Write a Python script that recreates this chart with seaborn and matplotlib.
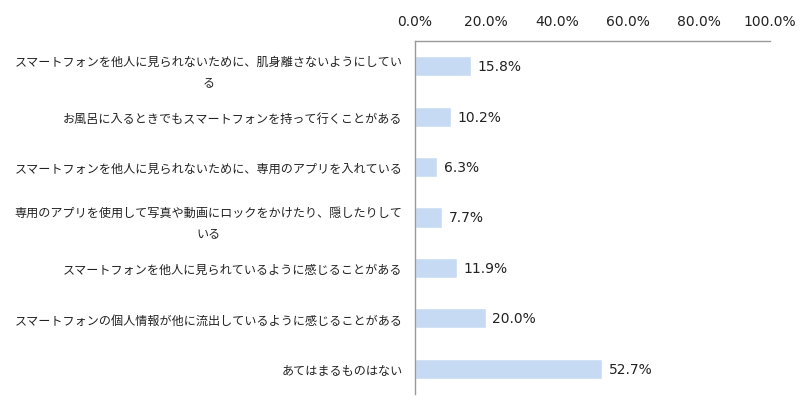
import matplotlib
matplotlib.use("Agg")
import matplotlib.pyplot as plt
import seaborn as sns
import pandas as pd
import numpy as np
from matplotlib.ticker import FixedLocator

categories = [
    "スマートフォンを他人に見られないために、肌身離さないようにしてい\nる",
    "お風呂に入るときでもスマートフォンを持って行くことがある",
    "スマートフォンを他人に見られないために、専用のアプリを入れている",
    "専用のアプリを使用して写真や動画にロックをかけたり、隠したりして\nいる",
    "スマートフォンを他人に見られているように感じることがある",
    "スマートフォンの個人情報が他に流出しているように感じることがある",
    "あてはまるものはない",
]
values = [15.8, 10.2, 6.3, 7.7, 11.9, 20.0, 52.7]
xticks = [0, 20, 40, 60, 80, 100]
xticklabels = ["0.0%", "20.0%", "40.0%", "60.0%", "80.0%", "100.0%"]

sns.set_theme(style="white")
plt.rcParams["font.family"] = ["Noto Sans CJK JP", "DejaVu Sans"]

df = pd.DataFrame({"cat": categories, "val": values})

fig = plt.figure(figsize=(8, 4.06), dpi=100)
ax = fig.add_axes([415/800, 1-395/406, (770-415)/800, (395-42)/406])
sns.barplot(data=df, y="cat", x="val", orient="h", color="#c6daf4",
            saturation=1, width=0.4, ax=ax)

ax.set_xlim(0, 100)
ax.set_ylim(len(categories)-0.5, -0.5)
ax.xaxis.tick_top()
ax.set_xticks(xticks)
ax.set_xticklabels(xticklabels, fontsize=10, color="#222222", family=["DejaVu Sans"])
ax.tick_params(axis="x", length=0, pad=9)
ax.set_xlabel("")
ax.set_ylabel("")
ax.set_yticks(range(len(categories)))
ax.set_yticklabels(categories, fontsize=8.7, color="#222222",
                   multialignment="center", linespacing=1.75)
ax.tick_params(axis="y", which="major", length=0, pad=9)
ax.yaxis.set_minor_locator(FixedLocator(np.arange(-0.5, len(categories), 1.0)))
ax.tick_params(axis="y", which="minor", length=4, direction="in", color="#999999", width=1)

for s in ["right", "bottom"]:
    ax.spines[s].set_visible(False)
for s in ["top", "left"]:
    ax.spines[s].set_color("#999999")
    ax.spines[s].set_linewidth(1)

for i, v in enumerate(values):
    ax.text(v + 1.8, i, f"{v:.1f}%", va="center", ha="left", fontsize=10,
            color="#222222", family=["DejaVu Sans"])

fig.savefig("out.png", dpi=100, facecolor="white")
